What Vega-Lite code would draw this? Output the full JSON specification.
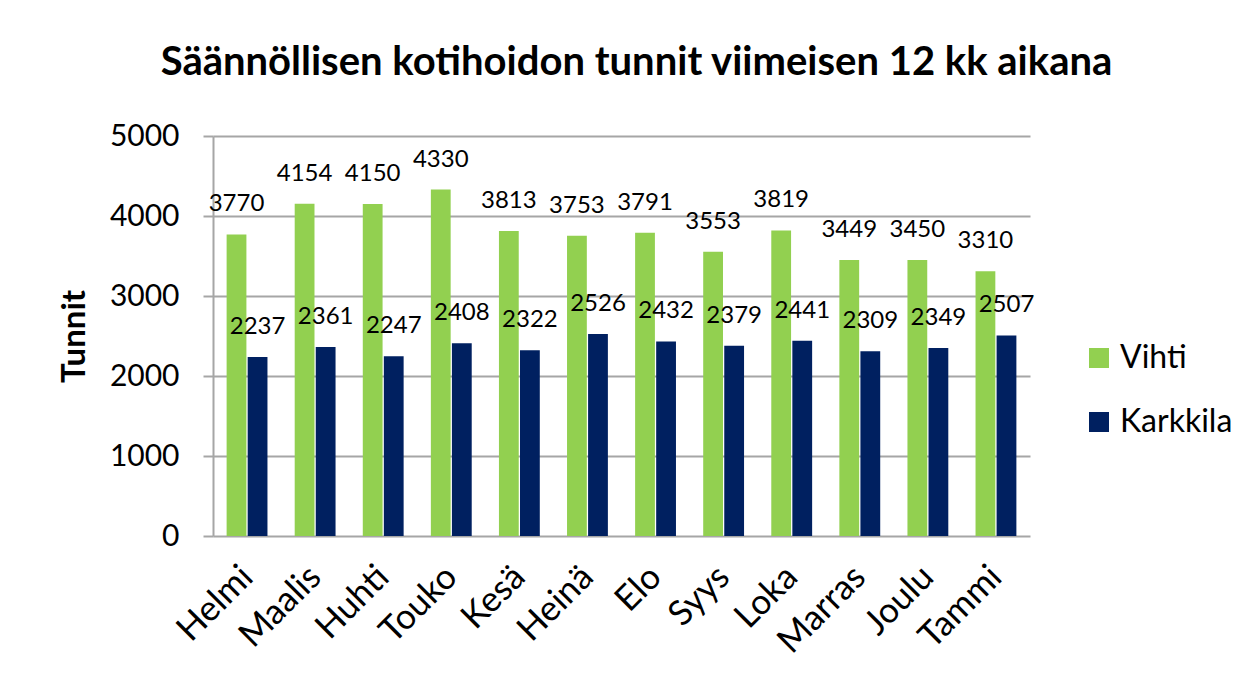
{
  "$schema": "https://vega.github.io/schema/vega-lite/v6.json",
  "autosize": "none",
  "padding": {"left": 213, "top": 136, "right": 228, "bottom": 141},
  "width": 817,
  "height": 400,
  "background": "white",
  "title": {
    "text": "Säännöllisen kotihoidon tunnit viimeisen 12 kk aikana",
    "font": "Lato",
    "fontSize": 40,
    "fontWeight": "bold",
    "color": "#000000",
    "anchor": "middle",
    "dx": 15,
    "offset": 38
  },
  "data": {
    "values": [
      {"kk": "Helmi", "kunta": "Vihti", "tunnit": 3770},
      {"kk": "Maalis", "kunta": "Vihti", "tunnit": 4154},
      {"kk": "Huhti", "kunta": "Vihti", "tunnit": 4150},
      {"kk": "Touko", "kunta": "Vihti", "tunnit": 4330},
      {"kk": "Kesä", "kunta": "Vihti", "tunnit": 3813},
      {"kk": "Heinä", "kunta": "Vihti", "tunnit": 3753},
      {"kk": "Elo", "kunta": "Vihti", "tunnit": 3791},
      {"kk": "Syys", "kunta": "Vihti", "tunnit": 3553},
      {"kk": "Loka", "kunta": "Vihti", "tunnit": 3819},
      {"kk": "Marras", "kunta": "Vihti", "tunnit": 3449},
      {"kk": "Joulu", "kunta": "Vihti", "tunnit": 3450},
      {"kk": "Tammi", "kunta": "Vihti", "tunnit": 3310},
      {"kk": "Helmi", "kunta": "Karkkila", "tunnit": 2237},
      {"kk": "Maalis", "kunta": "Karkkila", "tunnit": 2361},
      {"kk": "Huhti", "kunta": "Karkkila", "tunnit": 2247},
      {"kk": "Touko", "kunta": "Karkkila", "tunnit": 2408},
      {"kk": "Kesä", "kunta": "Karkkila", "tunnit": 2322},
      {"kk": "Heinä", "kunta": "Karkkila", "tunnit": 2526},
      {"kk": "Elo", "kunta": "Karkkila", "tunnit": 2432},
      {"kk": "Syys", "kunta": "Karkkila", "tunnit": 2379},
      {"kk": "Loka", "kunta": "Karkkila", "tunnit": 2441},
      {"kk": "Marras", "kunta": "Karkkila", "tunnit": 2309},
      {"kk": "Joulu", "kunta": "Karkkila", "tunnit": 2349},
      {"kk": "Tammi", "kunta": "Karkkila", "tunnit": 2507}
    ]
  },
  "encoding": {
    "x": {
      "field": "kk",
      "type": "nominal",
      "sort": ["Helmi", "Maalis", "Huhti", "Touko", "Kesä", "Heinä", "Elo", "Syys", "Loka", "Marras", "Joulu", "Tammi"],
      "scale": {"paddingInner": 0.4, "paddingOuter": 0.2},
      "axis": {
        "title": null,
        "labelAngle": -45,
        "labelAlign": "right",
        "labelBaseline": "middle",
        "labelFont": "Lato",
        "labelFontSize": 35,
        "labelColor": "#000000",
        "labelPadding": 35,
        "ticks": false,
        "domain": false
      }
    },
    "xOffset": {
      "field": "kunta",
      "type": "nominal",
      "sort": ["Vihti", "Karkkila"],
      "scale": {"paddingInner": 0.06}
    },
    "y": {
      "field": "tunnit",
      "type": "quantitative",
      "scale": {"domain": [0, 5000]},
      "axis": {
        "title": "Tunnit",
        "titleFont": "Lato",
        "titleFontSize": 33,
        "titleFontWeight": "bold",
        "titleColor": "#000000",
        "titlePadding": 18,
        "values": [0, 1000, 2000, 3000, 4000, 5000],
        "format": "d",
        "labelFont": "Lato",
        "labelFontSize": 30,
        "labelColor": "#000000",
        "labelPadding": 24,
        "tickSize": 10,
        "tickColor": "#a6a6a6",
        "tickWidth": 2,
        "domainColor": "#a6a6a6",
        "domainWidth": 2,
        "gridColor": "#a6a6a6",
        "gridWidth": 2
      }
    },
    "color": {
      "field": "kunta",
      "type": "nominal",
      "sort": ["Vihti", "Karkkila"],
      "scale": {"domain": ["Vihti", "Karkkila"], "range": ["#92D050", "#002060"]},
      "legend": {
        "title": null,
        "orient": "none",
        "legendX": 870,
        "legendY": 206,
        "symbolType": "square",
        "symbolSize": 400,
        "symbolStrokeWidth": 0,
        "labelFont": "Lato",
        "labelFontSize": 32,
        "labelColor": "#000000",
        "labelOffset": 5,
        "rowPadding": 32
      }
    }
  },
  "layer": [
    {"mark": {"type": "bar"}},
    {
      "mark": {"type": "text", "baseline": "bottom", "dy": -18, "font": "Lato", "fontSize": 24, "color": "#000000"},
      "encoding": {
        "text": {"field": "tunnit", "type": "quantitative", "format": "d"},
        "color": {"value": "#000000"}
      }
    }
  ],
  "config": {"view": {"stroke": null}}
}
